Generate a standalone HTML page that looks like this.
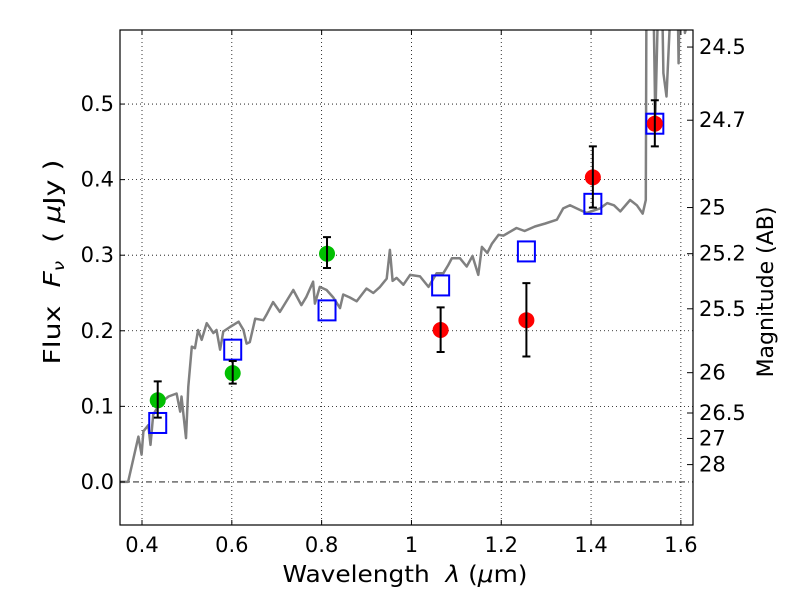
<!DOCTYPE html>
<html><head><meta charset="utf-8"><style>
body{margin:0;background:#fff}
svg{display:block}
text{font-family:"DejaVu Sans","Liberation Sans",sans-serif;fill:#000;white-space:pre}
</style></head><body>
<svg id="chart" width="800" height="600" viewBox="0 0 800 600" xmlns="http://www.w3.org/2000/svg">
<defs><clipPath id="clip"><rect x="120" y="30" width="573" height="495"/></clipPath></defs>
<rect x="0" y="0" width="800" height="600" fill="#fff"/>
<g id="grid"></g>
<g id="spec" clip-path="url(#clip)"></g>
<g id="marks" clip-path="url(#clip)"></g>
<rect x="120" y="30" width="573" height="495" fill="none" stroke="#000" stroke-width="1.2"/>
<g id="axes"></g>
<text x="405" y="582" font-size="23" text-anchor="middle" textLength="245" lengthAdjust="spacingAndGlyphs">Wavelength  <tspan font-style="italic">λ</tspan> (<tspan font-style="italic">μ</tspan>m)</text>
<text transform="translate(60,262) rotate(-90)" font-size="23" text-anchor="middle" textLength="205" lengthAdjust="spacingAndGlyphs">Flux  <tspan font-style="italic">F</tspan><tspan font-style="italic" font-size="15" dy="4">ν</tspan><tspan dy="-4">  ( </tspan><tspan font-style="italic">μ</tspan>Jy )</text>
<text transform="translate(773,292) rotate(-90)" font-size="22" text-anchor="middle">Magnitude (AB)</text>
</svg>
<script>
const xTicks=[0.4,0.6,0.8,1,1.2,1.4,1.6];
const xTickLabels=["0.4","0.6","0.8","1","1.2","1.4","1.6"];
const yTicks=[0,0.1,0.2,0.3,0.4,0.5];
const yTickLabels=["0.0","0.1","0.2","0.3","0.4","0.5"];
const magTicks=[24.5,24.7,25,25.2,25.5,26,26.5,27,28];
const magTickLabels=["24.5","24.7","25","25.2","25.5","26","26.5","27","28"];
const specLam=[0.351,0.369,0.392,0.399,0.403,0.414,0.419,0.425,0.440,0.459,0.477,0.485,0.488,0.498,0.503,0.511,0.518,0.525,0.533,0.544,0.559,0.566,0.574,0.581,0.596,0.615,0.626,0.633,0.640,0.652,0.670,0.677,0.692,0.707,0.737,0.755,0.766,0.781,0.785,0.796,0.811,0.826,0.841,0.848,0.863,0.878,0.900,0.915,0.930,0.945,0.952,0.958,0.967,0.982,0.997,1.019,1.038,1.056,1.071,1.082,1.090,1.108,1.123,1.136,1.149,1.157,1.169,1.179,1.194,1.205,1.234,1.252,1.275,1.298,1.324,1.338,1.353,1.375,1.390,1.420,1.436,1.451,1.465,1.487,1.502,1.515,1.522,1.524,1.535,1.540,1.543,1.548,1.555,1.561,1.568,1.575,1.579,1.590,1.595,1.600,1.609,1.620];
const specFlux=[0,0,0.060,0.036,0.067,0.075,0.049,0.089,0.104,0.113,0.117,0.093,0.113,0.058,0.126,0.179,0.177,0.201,0.188,0.210,0.197,0.201,0.175,0.199,0.205,0.212,0.201,0.183,0.185,0.216,0.214,0.221,0.238,0.225,0.254,0.234,0.245,0.265,0.236,0.258,0.254,0.244,0.230,0.248,0.244,0.239,0.256,0.250,0.258,0.269,0.307,0.266,0.270,0.261,0.274,0.272,0.258,0.276,0.276,0.287,0.296,0.296,0.285,0.299,0.274,0.311,0.303,0.315,0.327,0.326,0.336,0.332,0.338,0.342,0.347,0.362,0.366,0.360,0.356,0.362,0.369,0.366,0.358,0.373,0.366,0.355,0.373,0.75,0.75,0.60,0.479,0.60,0.75,0.541,0.51,0.60,0.75,0.75,0.554,0.75,0.594,0.62];
const greenLam=[0.435,0.602,0.812];
const greenFlux=[0.108,0.144,0.302];
const greenErrHi=[0.133,0.160,0.324];
const greenErrLo=[0.085,0.130,0.283];
const redLam=[1.065,1.256,1.404,1.542];
const redFlux=[0.201,0.214,0.403,0.474];
const redErrHi=[0.231,0.263,0.444,0.505];
const redErrLo=[0.172,0.166,0.363,0.444];
const modelLam=[0.435,0.602,0.812,1.065,1.256,1.404,1.542];
const modelFlux=[0.078,0.175,0.227,0.260,0.305,0.368,0.474];

const X0=0.351,X1=1.627,Y0=-0.057,Y1=0.598,L=120,R=693,T=30,B=525;
const sx=v=>L+(v-X0)/(X1-X0)*(R-L);
const sy=v=>B-(v-Y0)/(Y1-Y0)*(B-T);
const mag2flux=m=>Math.pow(10,(23.9-m)/2.5);
const NS="http://www.w3.org/2000/svg";
function mk(parent,tag,attrs,txt){const e=document.createElementNS(NS,tag);for(const k in attrs)e.setAttribute(k,attrs[k]);if(txt!==undefined)e.textContent=txt;document.getElementById(parent).appendChild(e);return e;}

xTicks.forEach((v,i)=>{
  const x=sx(v);
  const g=mk('grid','line',{x1:x,x2:x,y1:T,y2:B,stroke:'#000','stroke-width':0.8,'stroke-dasharray':'1,3'});
  
  
  mk('axes','line',{x1:x,x2:x,y1:B,y2:B-5,stroke:'#000'});
  mk('axes','line',{x1:x,x2:x,y1:T,y2:T+5,stroke:'#000'});
  const t=mk('axes','text',{x:x,y:B+27,'font-size':21,'text-anchor':'middle'},xTickLabels[i]);
  
  
});
yTicks.forEach((v,i)=>{
  const y=sy(v);
  const g=mk('grid','line',{x1:L,x2:R,y1:y,y2:y,stroke:'#000','stroke-width':0.8,'stroke-dasharray':v===0?'6,3,1,3':'1,3'});
  
  
  mk('axes','line',{x1:L,x2:L+5,y1:y,y2:y,stroke:'#000'});
  const t=mk('axes','text',{x:L-6,y:y+7,'font-size':21,'text-anchor':'end'},yTickLabels[i]);
  
  
});
magTicks.forEach((m,i)=>{
  const y=sy(mag2flux(m));
  mk('axes','line',{x1:R,x2:R-6,y1:y,y2:y,stroke:'#000'});
  const t=mk('axes','text',{x:R+6,y:y+7,'font-size':21,'text-anchor':'start'},magTickLabels[i]);
  
  
});
const pts=specLam.map((l,i)=>sx(l).toFixed(1)+','+sy(specFlux[i]).toFixed(1)).join(' ');
const sp=mk('spec','polyline',{points:pts,fill:'none',stroke:'#808080','stroke-width':2.5,'stroke-linejoin':'round'});



modelLam.forEach((l,i)=>{
  const s=mk('marks','rect',{x:sx(l)-8.5,y:sy(modelFlux[i])-10,width:17,height:20,fill:'none',stroke:'#0000ff','stroke-width':2});
  
  
});
function obs(lams,fl,hi,lo,color,name){
  lams.forEach((l,i)=>{
    const x=sx(l);
    const c=mk('marks','circle',{cx:x,cy:sy(fl[i]),r:8,fill:color});
    
    
    const e=mk('marks','path',{d:`M${x},${sy(hi[i])}V${sy(lo[i])}M${x-4},${sy(hi[i])}H${x+4}M${x-4},${sy(lo[i])}H${x+4}`,stroke:'#000','stroke-width':2,fill:'none'});
    
    
  });
}
obs(greenLam,greenFlux,greenErrHi,greenErrLo,'#00bf00','green-photometry-point');
obs(redLam,redFlux,redErrHi,redErrLo,'#ff0000','red-photometry-point');
</script>
</body></html>
